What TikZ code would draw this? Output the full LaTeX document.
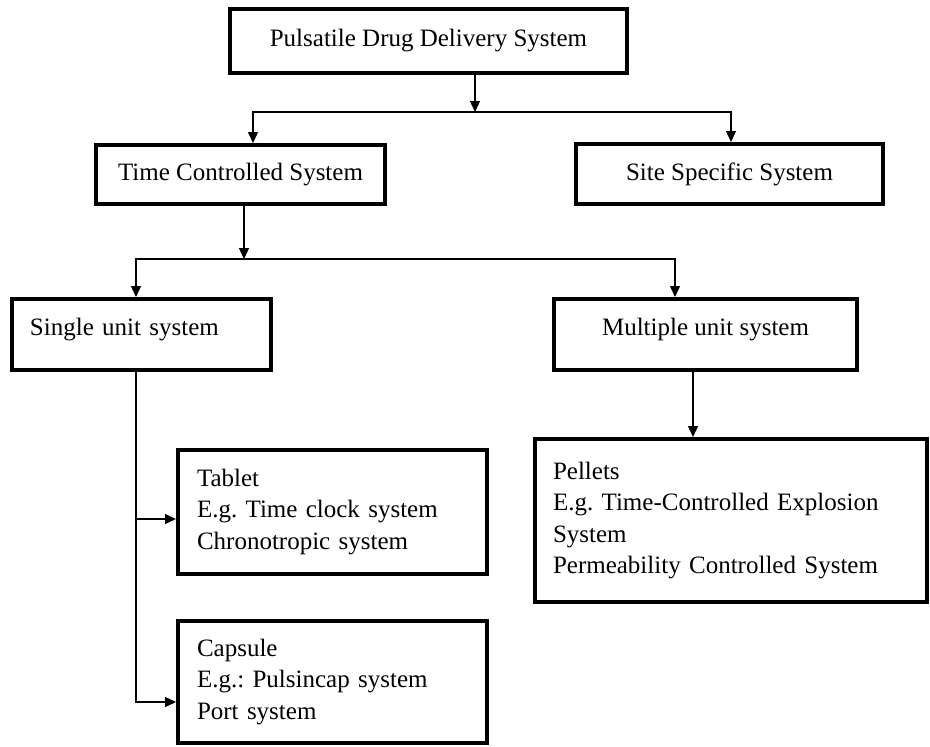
\documentclass[tikz,border=0pt]{standalone}
\usepackage{fontspec}
\setmainfont{Liberation Serif}
\usetikzlibrary{arrows.meta}
\begin{document}
\begin{tikzpicture}[x=1pt,y=-1pt,
  box/.style={draw, line width=4pt, inner sep=0pt, font=\fontsize{25}{31.5}\selectfont\frenchspacing},
  conn/.style={line width=1.3pt},
  arr/.style={conn, -{Triangle[width=10pt,length=11pt]}}]
\useasboundingbox (0,0) rectangle (930,747);
\node[box, minimum width=397pt, minimum height=64pt] (pdds) at (428.5,41) {Pulsatile Drug Delivery System};
\node[box, minimum width=289pt, minimum height=59pt] (tcs) at (240.5,174.5) {Time Controlled System};
\node[box, minimum width=307pt, minimum height=60pt] (sss) at (729.5,174) {Site Specific System};
\node[box, minimum height=71pt, inner xsep=18pt, text width=223pt, align=left, text depth=16pt] (sus) at (141.5,334.5) {Single unit system};
\node[box, minimum width=303pt, minimum height=71pt, text depth=16pt] (mus) at (705.5,334.5) {Multiple unit system};
\node[box, minimum height=124pt, inner xsep=19pt, text width=271pt, align=left] (tab) at (332.5,512) {Tablet\\E.g. Time clock system\\Chronotropic system};
\node[box, minimum height=122pt, inner xsep=19pt, text width=271pt, align=left] (cap) at (332.5,682) {Capsule\\E.g.: Pulsincap system\\Port system};
\node[box, minimum height=163pt, inner xsep=18pt, text width=356pt, align=left] (pel) at (731,520.5) {Pellets\\E.g. Time-Controlled Explosion\\System\\Permeability Controlled System};
\coordinate (j1) at (475,112);
\coordinate (j1l) at (253,112);
\coordinate (j1r) at (731,112);
\coordinate (j2) at (244,259);
\coordinate (j2l) at (136,259);
\coordinate (j2r) at (675,259);
\coordinate (c3) at (693,420);
\coordinate (t5) at (178,519);
\coordinate (t6) at (178,702);
\draw[arr] (pdds.south -| j1) -- (j1);
\draw[arr] (j1) -| (j1l |- tcs.north);
\draw[arr] (j1) -| (j1r |- sss.north);
\draw[arr] (tcs.south -| j2) -- (j2);
\draw[arr] (j2) -| (j2l |- sus.north);
\draw[arr] (j2) -| (j2r |- mus.north);
\draw[arr] (mus.south -| c3) -- (c3 |- pel.north);
\draw[arr] (sus.south -| j2l) |- (tab.west |- t5);
\draw[arr] (sus.south -| j2l) |- (cap.west |- t6);
\end{tikzpicture}
\end{document}
